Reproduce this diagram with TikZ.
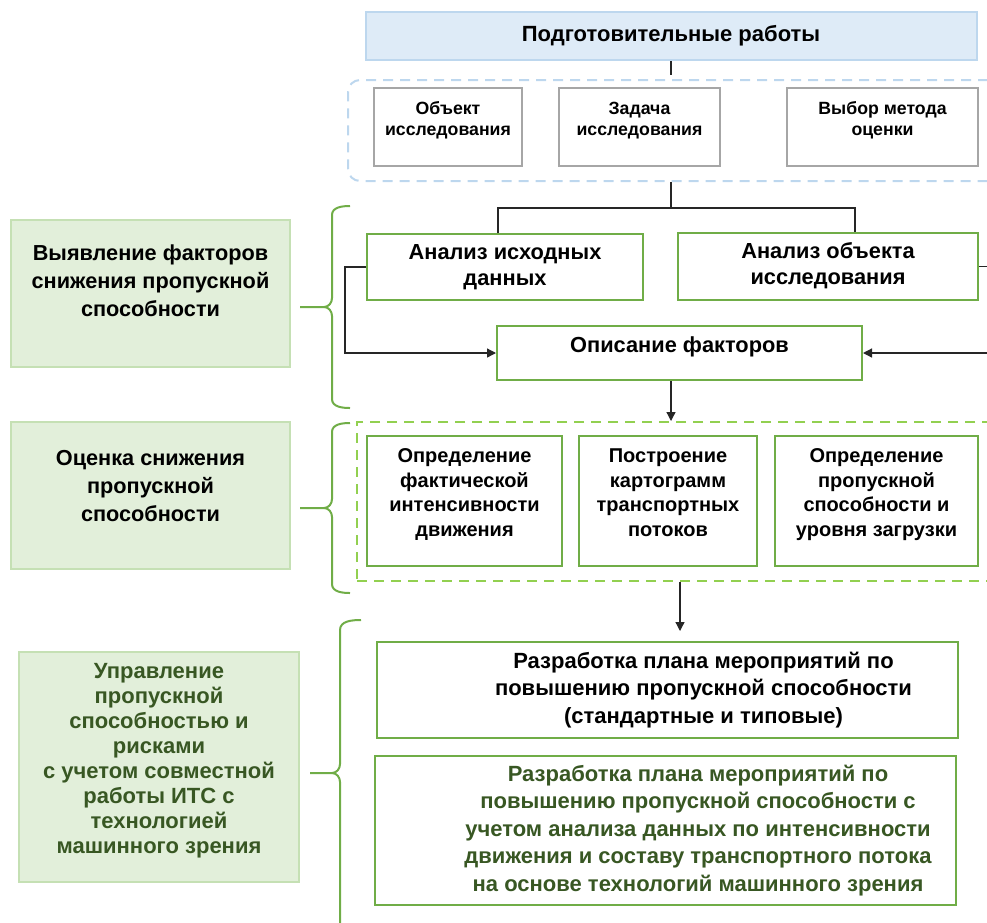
\documentclass[tikz,border=0pt]{standalone}
\usepackage{fontspec}
\setmainfont{Liberation Sans}
\usetikzlibrary{arrows.meta}
\definecolor{grnline}{HTML}{70AD47}
\definecolor{grndash}{HTML}{92D050}
\definecolor{sidefill}{HTML}{E2EFDA}
\definecolor{sideline}{HTML}{C5E0B4}
\definecolor{dkgreen}{HTML}{385723}
\definecolor{bluefill}{HTML}{DEEBF7}
\definecolor{blueline}{HTML}{BDD7EE}
\definecolor{boxgrey}{HTML}{A6A6A6}
\newcommand\lines[2][0pt]{\raisebox{#1}[\height][\depth]{\begin{tabular}{@{}c@{}}#2\end{tabular}}}
\begin{document}
\begin{tikzpicture}[x=1pt,y=-1pt,
  box/.style={draw,line width=2pt,fill=white,inner sep=0pt},
  titlebox/.style={box,draw=blueline,fill=bluefill,minimum width=611pt,minimum height=48pt,
    font=\bfseries\fontsize{22}{26}\selectfont},
  greybox/.style={box,draw=boxgrey,minimum height=78pt,font=\bfseries\fontsize{17.7}{21}\selectfont},
  grnbox/.style={box,draw=grnline,font=\bfseries\fontsize{21.8}{26}\selectfont},
  evalbox/.style={grnbox,minimum height=130pt,font=\bfseries\fontsize{20}{24.5}\selectfont},
  planbox/.style={grnbox,minimum width=581pt,font=\bfseries\fontsize{22}{27.5}\selectfont},
  sidebox/.style={box,draw=sideline,fill=sidefill,font=\bfseries\fontsize{21.7}{28}\selectfont},
  bluegrp/.style={draw=blueline,line width=2pt,dash pattern=on 10pt off 7pt,rounded corners=12pt},
  grngrp/.style={draw=grndash,line width=2pt,dash pattern=on 10pt off 7pt},
  brace/.style={draw=grnline,line width=2pt},
  link/.style={draw=black!85,line width=1.3pt},
  arrow/.style={link,-{Triangle[length=9pt,width=9pt]}}]
\useasboundingbox (0,0) rectangle (987,922);
\clip (0,0) rectangle (987,922);

% preparation
\node[titlebox] (prep) at (671,36) {Подготовительные работы};
\node[bluegrp,minimum width=652pt,minimum height=101pt] (prepgrp) at (674,130.5) {};
\node[greybox,minimum width=148pt] (objct) at (448,127) {\lines[6.5pt]{Объект\\исследования}};
\node[greybox,minimum width=161pt] (task) at (639.5,127) {\lines[6.5pt]{Задача\\исследования}};
\node[greybox,minimum width=191pt] (method) at (882.5,127) {\lines[6.5pt]{Выбор метода\\оценки}};

% factors
\node[grnbox,minimum width=276pt,minimum height=66pt] (rawdata) at (505,267) {\lines{Анализ исходных\\данных}};
\node[grnbox,minimum width=300pt,minimum height=67pt] (objan) at (828,266.5) {\lines{Анализ объекта\\исследования}};
\node[grnbox,minimum width=365pt,minimum height=54pt] (factors) at (679.5,353) {\lines[6pt]{Описание факторов}};

% evaluation
\node[grngrp,minimum width=646pt,minimum height=159pt] (evalgrp) at (680,501.5) {};
\node[evalbox,minimum width=195pt] (intens) at (464.5,501) {\lines[6.5pt]{Определение\\фактической\\интенсивности\\движения}};
\node[evalbox,minimum width=178pt] (cartog) at (668,501) {\lines[6.5pt]{Построение\\картограмм\\транспортных\\потоков}};
\node[evalbox,minimum width=203pt] (capac) at (876.5,501) {\lines[6.5pt]{Определение\\пропускной\\способности и\\уровня загрузки}};

% plans
\node[planbox,minimum height=96pt] (plan) at (667.5,690) {\hspace*{72pt}\lines{Разработка плана мероприятий по\\повышению пропускной способности\\(стандартные и типовые)}};
\node[planbox,minimum height=149pt,text=dkgreen] (mvplan) at (665.5,830.5) {\hspace*{65pt}\lines{Разработка плана мероприятий по\\повышению пропускной способности с\\учетом анализа данных по интенсивности\\движения и составу транспортного потока\\на основе технологий машинного зрения}};

% stages
\node[sidebox,minimum width=279pt,minimum height=147pt] (identify) at (150.5,293.5) {\lines[10.5pt]{Выявление факторов\\снижения пропускной\\способности}};
\node[sidebox,minimum width=279pt,minimum height=147pt] (assess) at (150.5,495.5) {\lines[7.5pt]{Оценка снижения\\пропускной\\способности}};
\node[sidebox,minimum width=280pt,minimum height=230pt,text=dkgreen,font=\bfseries\fontsize{22}{25}\selectfont] (manage) at (159,767) {\lines[6.5pt]{Управление\\пропускной\\способностью и\\рисками\\с учетом совместной\\работы ИТС с\\технологией\\машинного зрения}};

% braces
\draw[brace] (350,206) to[out=180,in=90] (332,215) -- (332,298) to[out=-90,in=0] (324,307) -- (300,307);
\draw[brace] (324,307) to[out=0,in=90] (332,316) -- (332,399) to[out=-90,in=180] (350,408);
\draw[brace] (350,423) to[out=180,in=90] (332,432) -- (332,499) to[out=-90,in=0] (324,508) -- (300,508);
\draw[brace] (324,508) to[out=0,in=90] (332,517) -- (332,584) to[out=-90,in=180] (350,593);
\draw[brace] (361,620) to[out=180,in=90] (340,630) -- (340,764) to[out=-90,in=0] (332,773) -- (310,773);
\draw[brace] (332,773) to[out=0,in=90] (340,782) -- (340,930);

% connectors
\coordinate (bus) at (671,208);
\draw[link] (prep.south) -- ([yshift=4pt]prep.south |- prepgrp.north);
\draw[link] (prep.south |- prepgrp.south) -- (bus);
\draw[link] ([xshift=-7pt]rawdata.north) |- (bus) -| ([xshift=27pt]objan.north);
\draw[arrow] (rawdata.west) -- ++(-21,0) |- (factors.west);
\draw[arrow] (objan.east) -- ++(25,0) |- (factors.east);
\draw[arrow] (prep.south |- factors.south) -- (prep.south |- evalgrp.north);
\draw[arrow] (evalgrp.south) -- ([yshift=10pt]evalgrp.south |- plan.north);
\end{tikzpicture}
\end{document}
